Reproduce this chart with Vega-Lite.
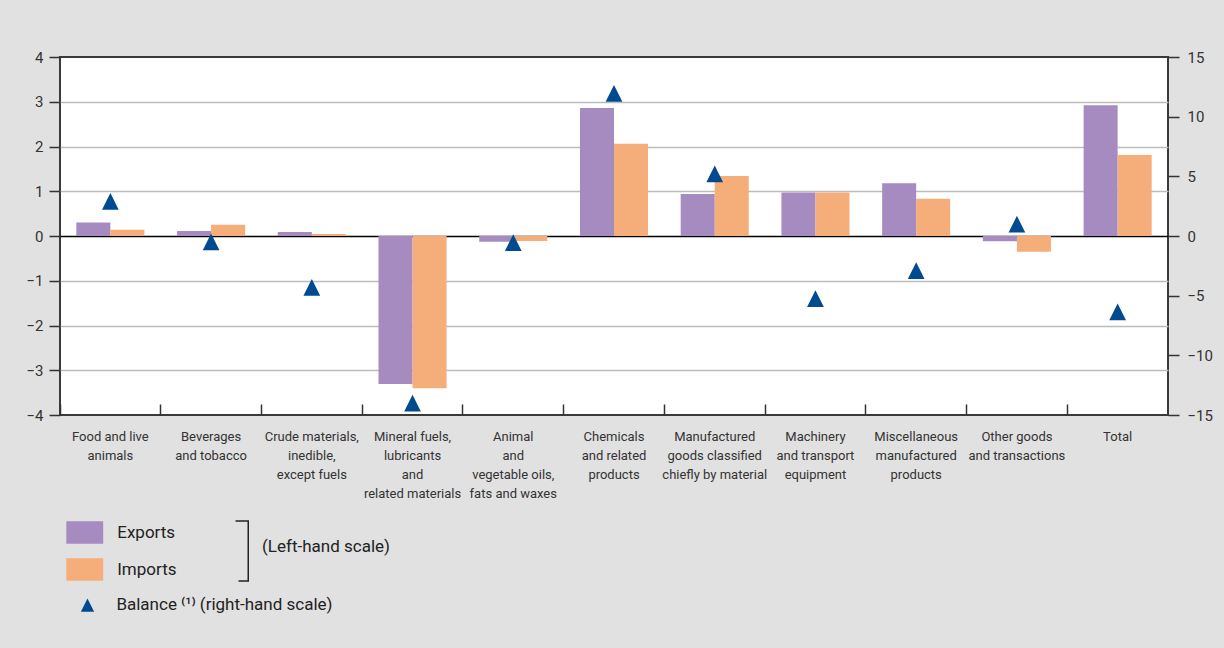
{
  "$schema": "https://vega.github.io/schema/vega-lite/v6.json",
  "width": 1108,
  "height": 358,
  "autosize": {"type": "none"},
  "padding": {"left": 60, "top": 57, "right": 56, "bottom": 233},
  "background": "#e1e1e1",
  "title": {
    "text": "(Left-hand scale)",
    "orient": "top",
    "anchor": "start",
    "frame": "group",
    "offset": 0,
    "baseline": "middle",
    "align": "left",
    "dx": 202,
    "dy": 514,
    "font": "Roboto",
    "fontSize": 17,
    "fontWeight": "normal",
    "color": "#222222"
  },
  "data": {
    "values": [
      {"category": "Food and live animals", "Exports": 0.30, "Imports": 0.14, "Balance": 2.9},
      {"category": "Beverages and tobacco", "Exports": 0.11, "Imports": 0.25, "Balance": -0.5},
      {"category": "Crude materials, inedible, except fuels", "Exports": 0.09, "Imports": 0.045, "Balance": -4.3},
      {"category": "Mineral fuels, lubricants and related materials", "Exports": -3.31, "Imports": -3.40, "Balance": -14.0},
      {"category": "Animal and vegetable oils, fats and waxes", "Exports": -0.13, "Imports": -0.11, "Balance": -0.55},
      {"category": "Chemicals and related products", "Exports": 2.86, "Imports": 2.06, "Balance": 11.95},
      {"category": "Manufactured goods classified chiefly by material", "Exports": 0.94, "Imports": 1.34, "Balance": 5.2},
      {"category": "Machinery and transport equipment", "Exports": 0.97, "Imports": 0.97, "Balance": -5.25},
      {"category": "Miscellaneous manufactured products", "Exports": 1.18, "Imports": 0.83, "Balance": -2.9},
      {"category": "Other goods and transactions", "Exports": -0.12, "Imports": -0.35, "Balance": 1.0},
      {"category": "Total", "Exports": 2.92, "Imports": 1.81, "Balance": -6.35}
    ]
  },
  "encoding": {
    "x": {
      "field": "category",
      "type": "nominal",
      "sort": null,
      "scale": {"paddingInner": 0, "paddingOuter": 0},
      "axis": {
        "title": null,
        "domain": false,
        "grid": false,
        "ticks": true,
        "tickSize": -11,
        "tickWidth": 1.5,
        "tickColor": "#333333",
        "bandPosition": 0,
        "labelPadding": 26,
        "labelAngle": 0,
        "labelAlign": "center",
        "labelBaseline": "top",
        "labelFont": "Roboto",
        "labelFontSize": 13,
        "labelLineHeight": 19,
        "labelColor": "#333333",
        "labelLimit": 0,
        "labelOverlap": false,
        "labelExpr": "{'Food and live animals': ['Food and live', 'animals'], 'Beverages and tobacco': ['Beverages', 'and tobacco'], 'Crude materials, inedible, except fuels': ['Crude materials,', 'inedible,', 'except fuels'], 'Mineral fuels, lubricants and related materials': ['Mineral fuels,', 'lubricants', 'and', 'related materials'], 'Animal and vegetable oils, fats and waxes': ['Animal', 'and', 'vegetable oils,', 'fats and waxes'], 'Chemicals and related products': ['Chemicals', 'and related', 'products'], 'Manufactured goods classified chiefly by material': ['Manufactured', 'goods classified', 'chiefly by material'], 'Machinery and transport equipment': ['Machinery', 'and transport', 'equipment'], 'Miscellaneous manufactured products': ['Miscellaneous', 'manufactured', 'products'], 'Other goods and transactions': ['Other goods', 'and transactions'], 'Total': ['Total']}[datum.value]"
      }
    }
  },
  "layer": [
    {
      "transform": [{"fold": ["Exports", "Imports"], "as": ["series", "value"]}],
      "mark": {"type": "bar"},
      "encoding": {
        "y": {
          "field": "value",
          "type": "quantitative",
          "scale": {"domain": [-4, 4], "nice": false, "zero": false},
          "axis": {
            "orient": "left",
            "title": null,
            "values": [-4, -3, -2, -1, 0, 1, 2, 3, 4],
            "domain": false,
            "grid": true,
            "gridColor": {"condition": {"test": "datum.value === 0", "value": "#000000"}, "value": "#bcbcbc"},
            "gridWidth": {"condition": {"test": "abs(datum.value) === 4", "value": 0}, "value": 1.5},
            "ticks": true,
            "tickSize": 11,
            "tickWidth": 1.5,
            "tickColor": "#333333",
            "labelPadding": 6,
            "labelFont": "Roboto",
            "labelFontSize": 15,
            "labelColor": "#333333"
          }
        },
        "xOffset": {"field": "series", "scale": {"paddingInner": 0, "paddingOuter": 0.48}},
        "color": {
          "field": "series",
          "type": "nominal",
          "scale": {"domain": ["Exports", "Imports"], "range": ["#a68bc1", "#f5ad7a"]},
          "legend": {
            "orient": "none",
            "legendX": 13.25,
            "legendY": 464,
            "title": null,
            "symbolType": "M-1.64,-1L1.64,-1L1.64,1L-1.64,1Z",
            "symbolSize": 506,
            "symbolStrokeWidth": 0,
            "symbolOpacity": 1,
            "labelOffset": 21,
            "rowPadding": 14,
            "labelLimit": 0,
            "strokeColor": "#222222",
            "labelExpr": "datum.label + '\u00a0\u00a0\u00a0\u00a0\u00a0\u00a0\u00a0\u00a0\u00a0\u00a0\u00a0\u00a0\u00a0\u00a0\u00a0\u00a0\u00a0\u200b'"
          }
        }
      }
    },
    {
      "mark": {"type": "point", "filled": true, "size": 279, "opacity": 1, "color": "#004a8f", "strokeWidth": 0},
      "encoding": {
        "y": {
          "field": "Balance",
          "type": "quantitative",
          "scale": {"domain": [-15, 15], "nice": false, "zero": false},
          "axis": {
            "orient": "right",
            "title": null,
            "values": [-15, -10, -5, 0, 5, 10, 15],
            "domain": false,
            "grid": false,
            "ticks": true,
            "tickSize": 11,
            "tickWidth": 1.5,
            "tickColor": "#333333",
            "labelPadding": 8,
            "labelFont": "Roboto",
            "labelFontSize": 15,
            "labelColor": "#333333"
          }
        },
        "shape": {
          "datum": "Balance",
          "type": "nominal",
          "scale": {"range": ["M0,-1L1,1L-1,1Z"]},
          "legend": {
            "orient": "none",
            "legendX": 19,
            "legendY": 539.7,
            "title": null,
            "symbolSize": 177,
            "symbolFillColor": "#004a8f",
            "symbolStrokeWidth": 0,
            "symbolOpacity": 1,
            "labelOffset": 20.4,
            "labelLimit": 0,
            "labelExpr": "'Balance ⁽¹⁾ (right-hand scale)'"
          }
        }
      }
    }
  ],
  "resolve": {"scale": {"y": "independent"}},
  "config": {
    "view": {"fill": "#ffffff", "stroke": "#3a3a3a", "strokeWidth": 2},
    "legend": {
      "padding": 0,
      "strokeWidth": 1.5,
      "strokeDash": [0, 162.3, 82.4, 1000],
      "labelFont": "Roboto",
      "labelFontSize": 17,
      "labelColor": "#222222"
    }
  }
}
